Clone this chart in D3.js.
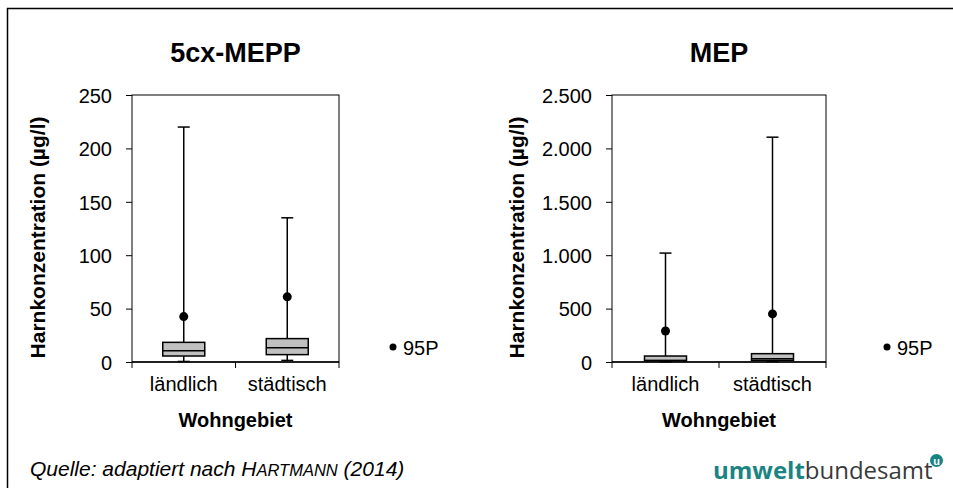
<!DOCTYPE html>
<html>
<head>
<meta charset="utf-8">
<script src="https://cdn.jsdelivr.net/npm/d3@7"></script>
<style>
  body { margin: 0; background: #fff; }
  svg { font-family: "Liberation Sans", Arial, sans-serif; }
</style>
</head>
<body>
<svg id="chart" width="953" height="488"></svg>
<script>
// categories and values (µg/l)
const categories = ["ländlich", "städtisch"];
const titles = ["5cx-MEPP", "MEP"];
const yMax = [250, 2500];
const yTicks = [[0, 50, 100, 150, 200, 250], [0, 500, 1000, 1500, 2000, 2500]];

// per panel: [ländlich, städtisch]
const minVals = [[0.5, 1.5], [2, 5]];
const q1Vals = [[5.6, 6.9], [15, 15]];
const medianVals = [[10.6, 13.4], [12, 30]];
const q3Vals = [[18.4, 21.9], [56, 78]];
const maxVals = [[220, 135], [1020, 2105]];
const p95Vals = [[42.5, 61], [290, 450]];

const de = d3.formatLocale({decimal: ",", thousands: ".", grouping: [3], currency: ["", "€"]});
const fmt = de.format(",d");
const fontFam = "Liberation Sans, Arial, sans-serif";

const svg = d3.select("#chart");

// outer frame (left and top edges only visible)
svg.append("path")
    .attr("d", "M7.5,488V8.5H953")
    .attr("fill", "none")
    .attr("stroke", "#000")
    .attr("stroke-width", 1.5);

const panels = [
    {left: 132, right: 339, legendX: 393, labelX: 45},
    {left: 612, right: 826, legendX: 887, labelX: 524}
];
const plotTop = 95, plotBottom = 362;

panels.forEach((p, i) => {
    const x = d3.scaleBand().domain(categories).range([p.left, p.right]).padding(0);
    const y = d3.scaleLinear().domain([0, yMax[i]]).range([plotBottom, plotTop]);
    const g = svg.append("g");
    const cx = d => x(d) + x.bandwidth() / 2;
    const boxW = 42, capW = 12;

    // title
    g.append("text")
        .attr("x", (p.left + p.right) / 2)
        .attr("y", 62)
        .attr("text-anchor", "middle")
        .attr("font-weight", "bold")
        .attr("font-size", 27)
        .text(titles[i]);

    // frame
    g.append("rect")
        .attr("x", p.left).attr("y", plotTop)
        .attr("width", p.right - p.left).attr("height", plotBottom - plotTop)
        .attr("fill", "none").attr("stroke", "#000").attr("stroke-width", 1);

    const yAxis = g.append("g")
        .attr("transform", `translate(${p.left},0)`)
        .call(d3.axisLeft(y).tickValues(yTicks[i]).tickSize(6).tickPadding(14).tickFormat(fmt));
    yAxis.select(".domain").remove();
    yAxis.selectAll("text").attr("font-size", 20).attr("font-family", fontFam).attr("dy", "0.36em");

    const xAxis = g.append("g")
        .attr("transform", `translate(0,${plotBottom})`)
        .call(d3.axisBottom(x).tickSize(0).tickPadding(15));
    xAxis.select(".domain").attr("stroke-width", 1.5).attr("d", `M${p.left},0H${p.right}`);
    xAxis.selectAll("text").attr("font-size", 20).attr("font-family", fontFam);
    // category separators
    xAxis.selectAll(".sep")
        .data([p.left, x(categories[1]), p.right])
        .enter().append("line")
        .attr("x1", d => d).attr("x2", d => d)
        .attr("y1", 0).attr("y2", 6)
        .attr("stroke", "#000");

    g.append("text")
        .attr("x", (p.left + p.right) / 2)
        .attr("y", 427)
        .attr("text-anchor", "middle")
        .attr("font-weight", "bold")
        .attr("font-size", 20)
        .text("Wohngebiet");

    g.append("text")
        .attr("transform", `translate(${p.labelX},${(plotTop + plotBottom) / 2 + 9}) rotate(-90)`)
        .attr("text-anchor", "middle")
        .attr("font-weight", "bold")
        .attr("font-size", 21)
        .text("Harnkonzentration (µg/l)");

    const rows = categories.map((c, j) => ({
        c, min: minVals[i][j], q1: q1Vals[i][j], med: medianVals[i][j],
        q3: q3Vals[i][j], max: maxVals[i][j], p95: p95Vals[i][j]
    }));

    const box = g.selectAll(".box").data(rows).enter().append("g");
    box.append("line")
        .attr("x1", d => cx(d.c)).attr("x2", d => cx(d.c))
        .attr("y1", d => y(d.min)).attr("y2", d => y(d.max))
        .attr("stroke", "#000").attr("stroke-width", 1.5);
    box.append("line")
        .attr("x1", d => cx(d.c) - capW / 2).attr("x2", d => cx(d.c) + capW / 2)
        .attr("y1", d => y(d.max)).attr("y2", d => y(d.max))
        .attr("stroke", "#000").attr("stroke-width", 1.5);
    box.append("line")
        .attr("x1", d => cx(d.c) - capW / 2).attr("x2", d => cx(d.c) + capW / 2)
        .attr("y1", d => y(d.min)).attr("y2", d => y(d.min))
        .attr("stroke", "#000").attr("stroke-width", 1.5);
    box.append("rect")
        .attr("x", d => cx(d.c) - boxW / 2)
        .attr("y", d => y(d.q3))
        .attr("width", boxW)
        .attr("height", d => y(d.q1) - y(d.q3))
        .attr("fill", "#c0c0c0").attr("stroke", "#000").attr("stroke-width", 1.5);
    box.append("line")
        .attr("x1", d => cx(d.c) - boxW / 2).attr("x2", d => cx(d.c) + boxW / 2)
        .attr("y1", d => y(d.med)).attr("y2", d => y(d.med))
        .attr("stroke", "#000").attr("stroke-width", 1.5);
    box.append("circle")
        .attr("cx", d => cx(d.c)).attr("cy", d => y(d.p95))
        .attr("r", 4.5).attr("fill", "#000");

    // legend
    g.append("circle").attr("cx", p.legendX).attr("cy", 347).attr("r", 3.5).attr("fill", "#000");
    g.append("text").attr("x", p.legendX + 10).attr("y", 354.5)
        .attr("font-size", 20).text("95P");
});

// source line
const src = svg.append("text").attr("x", 30).attr("y", 476)
    .attr("font-size", 21).attr("font-style", "italic");
src.append("tspan").text("Quelle: adaptiert nach H");
src.append("tspan").attr("font-size", 16.5).text("ARTMANN");
src.append("tspan").text(" (2014)");

// logo
const logo = svg.append("text").attr("x", 713).attr("y", 479)
    .attr("font-size", 24).attr("font-family", "Open Sans, DejaVu Sans, sans-serif");
logo.append("tspan").attr("fill", "#1a8482").attr("font-weight", "bold").text("umwelt");
logo.append("tspan").attr("fill", "#3a3a3a").text("bundesamt");
svg.append("circle").attr("cx", 936.5).attr("cy", 460.5).attr("r", 6.5).attr("fill", "#1a8482");
svg.append("text").attr("x", 936.5).attr("y", 464.5).attr("text-anchor", "middle")
    .attr("font-size", 11).attr("font-weight", "bold").attr("fill", "#fff").text("u");
</script>
</body>
</html>
